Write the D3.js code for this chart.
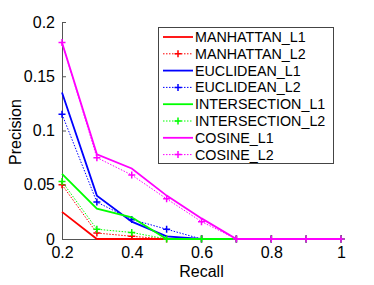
<!DOCTYPE html>
<html>
<head>
<meta charset="utf-8">
<script src="https://cdn.jsdelivr.net/npm/d3@7"></script>
<style>
  body { margin: 0; background: #fff; }
  svg text { font-family: "Liberation Sans", Arial, sans-serif; fill: #000; }
</style>
</head>
<body>
<div id="chart"></div>
<script>
// Data.
const recall = [0.2, 0.3, 0.4, 0.5, 0.6, 0.7, 0.8, 0.9, 1.0];
const seriesNames = ['MANHATTAN_L1', 'MANHATTAN_L2', 'EUCLIDEAN_L1', 'EUCLIDEAN_L2',
  'INTERSECTION_L1', 'INTERSECTION_L2', 'COSINE_L1', 'COSINE_L2'];
const manhattanL1 = [0.025, 0, 0, 0, 0, 0, 0, 0, 0];
const manhattanL2 = [0.050, 0.0055, 0.0025, 0, 0, 0, 0, 0, 0];
const euclideanL1 = [0.135, 0.040, 0.016, 0.0025, 0, 0, 0, 0, 0];
const euclideanL2 = [0.115, 0.034, 0.018, 0.009, 0, 0, 0, 0, 0];
const intersectionL1 = [0.060, 0.028, 0.020, 0, 0, 0, 0, 0, 0];
const intersectionL2 = [0.053, 0.009, 0.006, 0, 0, 0, 0, 0, 0];
const cosineL1 = [0.181, 0.078, 0.065, 0.040, 0.019, 0, 0, 0, 0];
const cosineL2 = [0.181, 0.075, 0.059, 0.037, 0.016, 0, 0, 0, 0];
const seriesValues = [manhattanL1, manhattanL2, euclideanL1, euclideanL2,
  intersectionL1, intersectionL2, cosineL1, cosineL2];
const xTicks = [0.2, 0.4, 0.6, 0.8, 1];
const yTicks = [0, 0.05, 0.1, 0.15, 0.2];

const colors = ['#ff0000', '#ff0000', '#0000ff', '#0000ff', '#00ff00', '#00ff00', '#ff00ff', '#ff00ff'];

let svg = d3.select("#chart").append("svg")
  .attr("width", 374)
  .attr("height", 285);

let margin = { top: 22, right: 33, bottom: 46, left: 62 };
let width = 374 - margin.left - margin.right;
let height = 285 - margin.top - margin.bottom;

let x = d3.scaleLinear().domain([0.2, 1]).range([margin.left, margin.left + width]);
let y = d3.scaleLinear().domain([0, 0.2]).range([margin.top + height, margin.top]);

// axes (inward ticks, no box)
let xAxis = d3.axisBottom(x).tickValues(xTicks).tickSize(-4).tickPadding(8)
  .tickFormat(d => d3.format("")(d));
let yAxis = d3.axisLeft(y).tickValues(yTicks).tickSize(-4).tickPadding(7)
  .tickFormat(d => d3.format("")(d));

let xAxisEl = svg.append("g")
  .attr("transform", "translate(0," + (margin.top + height) + ")")
  .call(xAxis);
let yAxisEl = svg.append("g")
  .attr("transform", "translate(" + margin.left + ",0)")
  .call(yAxis);

[xAxisEl, yAxisEl].forEach(a => {
  a.select(".domain").attr("stroke", "#555").attr("stroke-width", 1);
  a.selectAll(".tick line").attr("stroke", "#555");
  a.selectAll(".tick text").attr("font-size", 16).attr("fill", "#000");
});

svg.append("text")
  .attr("x", x(0.6))
  .attr("y", 277)
  .attr("text-anchor", "middle")
  .attr("font-size", 16)
  .text("Recall");

svg.append("text")
  .attr("transform", "translate(21,132) rotate(-90)")
  .attr("text-anchor", "middle")
  .attr("font-size", 16)
  .text("Precision");

// lines
let line = d3.line()
  .x((d, i) => x(recall[i]))
  .y(d => y(d));

let plusPath = "M-3.5,0H3.5M0,-3.5V3.5";

seriesValues.forEach((vals, s) => {
  let dotted = s % 2 === 1;
  let g = svg.append("g");
  g.append("path")
    .attr("d", line(vals))
    .attr("fill", "none")
    .attr("stroke", colors[s])
    .attr("stroke-width", dotted ? 1 : 1.8)
    .attr("stroke-dasharray", dotted ? "1.5,1.5" : null);
  if (dotted) {
    g.selectAll("path.mk")
      .data(vals)
      .join("path")
      .attr("class", "mk")
      .attr("transform", (d, i) => "translate(" + x(recall[i]) + "," + y(d) + ")")
      .attr("d", plusPath)
      .attr("stroke", colors[s])
      .attr("stroke-width", 1.5);
  }
});

// legend
let legend = svg.append("g");
legend.append("rect")
  .attr("x", 158.5).attr("y", 27.5)
  .attr("width", 175).attr("height", 136)
  .attr("fill", "#fff")
  .attr("stroke", "#444")
  .attr("stroke-width", 1);

seriesNames.forEach((name, s) => {
  let dotted = s % 2 === 1;
  let ly = 37 + s * 16.8;
  legend.append("line")
    .attr("x1", 163).attr("x2", 193)
    .attr("y1", ly).attr("y2", ly)
    .attr("stroke", colors[s])
    .attr("stroke-width", dotted ? 1 : 1.8)
    .attr("stroke-dasharray", dotted ? "1.5,1.5" : null);
  if (dotted) {
    legend.append("path")
      .attr("transform", "translate(178," + ly + ")")
      .attr("d", plusPath)
      .attr("stroke", colors[s])
      .attr("stroke-width", 1.5);
  }
  legend.append("text")
    .attr("x", 195)
    .attr("y", ly + 5)
    .attr("font-size", 14.3)
    .text(name);
});
</script>
</body>
</html>
